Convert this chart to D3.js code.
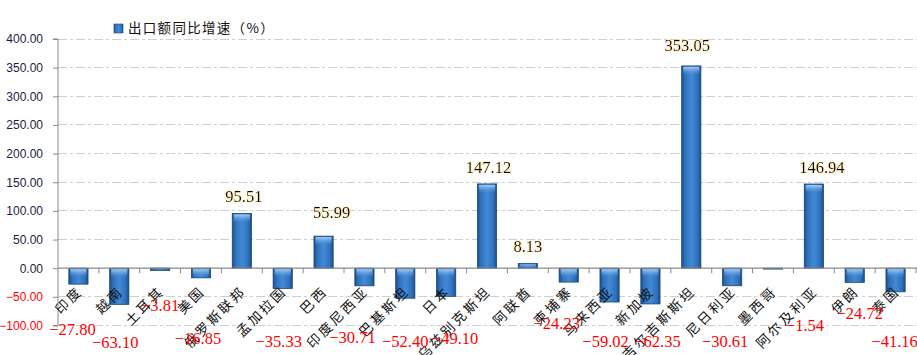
<!DOCTYPE html>
<html>
<head>
<meta charset="utf-8">
<script src="https://cdn.jsdelivr.net/npm/d3@7/dist/d3.min.js"></script>
<style>
  html, body { margin: 0; padding: 0; background: #fff; }
  svg { display: block; }
</style>
</head>
<body>
<svg id="chart" width="917" height="355"></svg>
<script>
// ---- data ----
const categories = ["印度","越南","土耳其","美国","俄罗斯联邦","孟加拉国","巴西","印度尼西亚","巴基斯坦","日本","乌兹别克斯坦","阿联酋","柬埔寨","马来西亚","新加坡","吉尔吉斯斯坦","尼日利亚","墨西哥","阿尔及利亚","伊朗","泰国"];
const growth = [-27.80,-63.10,-3.81,-16.85,95.51,-35.33,55.99,-30.71,-52.40,-49.10,147.12,8.13,-24.23,-59.02,-62.35,353.05,-30.61,-1.54,146.94,-24.72,-41.16];
const yTicks = [400,350,300,250,200,150,100,50,0,-50,-100];
const seriesName = "出口额同比增速（%）";

// ---- label nudges (layout only) ----
const labelNudge = [[-6,-12],[-4,1],[0,-36],[-3,-3],[2,0],[-4,0],[8,-7],[-12,-4],[0,0],[9,-3],[1.5,0],[0,0],[-12,-18],[-4,0],[7,0],[-4,-4],[-7,0],[32,-16],[8,0],[5,-28],[-1,0]];

const svg = d3.select("#chart");
const left = 58, right = 916;
const y = d3.scaleLinear().domain([-100, 400]).range([325.5, 39]);
const x = d3.scaleBand().domain(categories).range([left, right]).paddingInner(0.53).paddingOuter(0.265);
const step = x.step();

const defs = svg.append("defs");
const g1 = defs.append("linearGradient").attr("id","barGrad").attr("x1","0").attr("x2","1").attr("y1","0").attr("y2","0");
[[0,"#1b4f8c"],[0.18,"#3072bc"],[0.5,"#4289d6"],[0.82,"#3072bc"],[1,"#1b4f8c"]].forEach(([o,c]) => g1.append("stop").attr("offset",o).attr("stop-color",c));
const g2 = defs.append("linearGradient").attr("id","capGrad").attr("x1","0").attr("x2","0").attr("y1","0").attr("y2","1");
g2.append("stop").attr("offset",0).attr("stop-color","#a9d0f5").attr("stop-opacity",0.95);
g2.append("stop").attr("offset",1).attr("stop-color","#5c9de0").attr("stop-opacity",0);
const f = defs.append("filter").attr("id","glow").attr("x","-20%").attr("y","-30%").attr("width","140%").attr("height","160%");
f.append("feGaussianBlur").attr("in","SourceAlpha").attr("stdDeviation",0.8).attr("result","b");
f.append("feFlood").attr("flood-color","#f5c040").attr("flood-opacity",0.7);
f.append("feComposite").attr("in2","b").attr("operator","in").attr("result","g");
const fm = f.append("feMerge"); fm.append("feMergeNode").attr("in","g"); fm.append("feMergeNode").attr("in","SourceGraphic");

// grid lines
svg.append("g").selectAll("line").data(yTicks.filter(t => t !== 0)).join("line")
  .attr("x1", left).attr("x2", 917).attr("y1", d => y(d)).attr("y2", d => y(d))
  .attr("stroke", "#cfcfcf").attr("stroke-width", 1).attr("stroke-dasharray", "9,3,3,3")
  .attr("shape-rendering","crispEdges");

// y axis
const yAxis = svg.append("g").attr("transform", `translate(${left},0)`)
  .call(d3.axisLeft(y).tickValues(yTicks).tickSize(5).tickPadding(10).tickFormat(d3.format(".2f")));
yAxis.select(".domain").attr("stroke","#8a8a8a").attr("d", `M-5,${y(400)}H0V${y(-100)}H-5`);
yAxis.selectAll(".tick line").attr("stroke","#8a8a8a");
yAxis.selectAll(".tick text").attr("font-family","'Liberation Sans', Arial, sans-serif").attr("font-size","12px")
  .attr("fill", d => d < 0 ? "#ff0000" : "#1c1c48");

// bars
const bars = svg.append("g");
bars.selectAll("rect.bar").data(growth).join("rect").attr("class","bar")
  .attr("x", (d,i) => x(categories[i]))
  .attr("width", x.bandwidth())
  .attr("y", d => Math.min(y(d), y(0)))
  .attr("height", d => Math.abs(y(d) - y(0)))
  .attr("fill","url(#barGrad)").attr("stroke","#1a4678").attr("stroke-width",0.8);
bars.selectAll("rect.cap").data(growth).join("rect").attr("class","cap")
  .attr("x", (d,i) => x(categories[i]) + 1.5)
  .attr("width", x.bandwidth() - 3)
  .attr("y", d => Math.min(y(d), y(0)) + 1)
  .attr("height", d => Math.max(0, Math.min(8, Math.abs(y(d) - y(0)) - 2)))
  .attr("fill","url(#capGrad)");

// zero line + x ticks
svg.append("line").attr("x1", left).attr("x2", 917).attr("y1", y(0)).attr("y2", y(0))
  .attr("stroke","#8a8a8a").attr("stroke-width",1.2);
const boundaries = d3.range(1, categories.length + 1).map(k => left + k * step);
svg.append("g").selectAll("line").data(boundaries).join("line")
  .attr("x1", d => d).attr("x2", d => d).attr("y1", y(0)).attr("y2", y(0) + 5)
  .attr("stroke","#8a8a8a");

// category labels
svg.append("g").selectAll("text").data(categories).join("text")
  .attr("transform", d => `translate(${x(d) + x.bandwidth()/2 + 5},${y(0) + 24}) rotate(-45)`)
  .attr("text-anchor","end")
  .attr("font-family","'Noto Sans CJK SC', sans-serif").attr("font-size","13.5px")
  .attr("letter-spacing","2.6px").attr("fill","#111")
  .text(d => d);

// value labels
svg.append("g").selectAll("text").data(growth).join("text")
  .attr("x", (d,i) => x(categories[i]) + x.bandwidth()/2 + labelNudge[i][0])
  .attr("y", (d,i) => (d >= 0 ? y(d) - 17 : 341) + labelNudge[i][1])
  .attr("dy","0.35em")
  .attr("text-anchor","middle")
  .attr("font-family","'Liberation Serif', 'Times New Roman', serif").attr("font-size","16.5px")
  .attr("fill", d => d < 0 ? "#ff0000" : "#000")
  .attr("filter", d => d >= 0 ? "url(#glow)" : null)
  .text(d => d3.format(".2f")(d));

// legend
const lg = svg.append("g");
lg.append("rect").attr("x",114).attr("y",24).attr("width",9).attr("height",9)
  .attr("fill","url(#barGrad)").attr("stroke","#1a4678").attr("stroke-width",0.6);
lg.append("text").attr("x",128).attr("y",28.5).attr("dy","0.35em")
  .attr("font-family","'Noto Sans CJK SC', sans-serif").attr("font-size","13.5px")
  .attr("letter-spacing","1.3px").attr("fill","#111").text(seriesName);
</script>
</body>
</html>
